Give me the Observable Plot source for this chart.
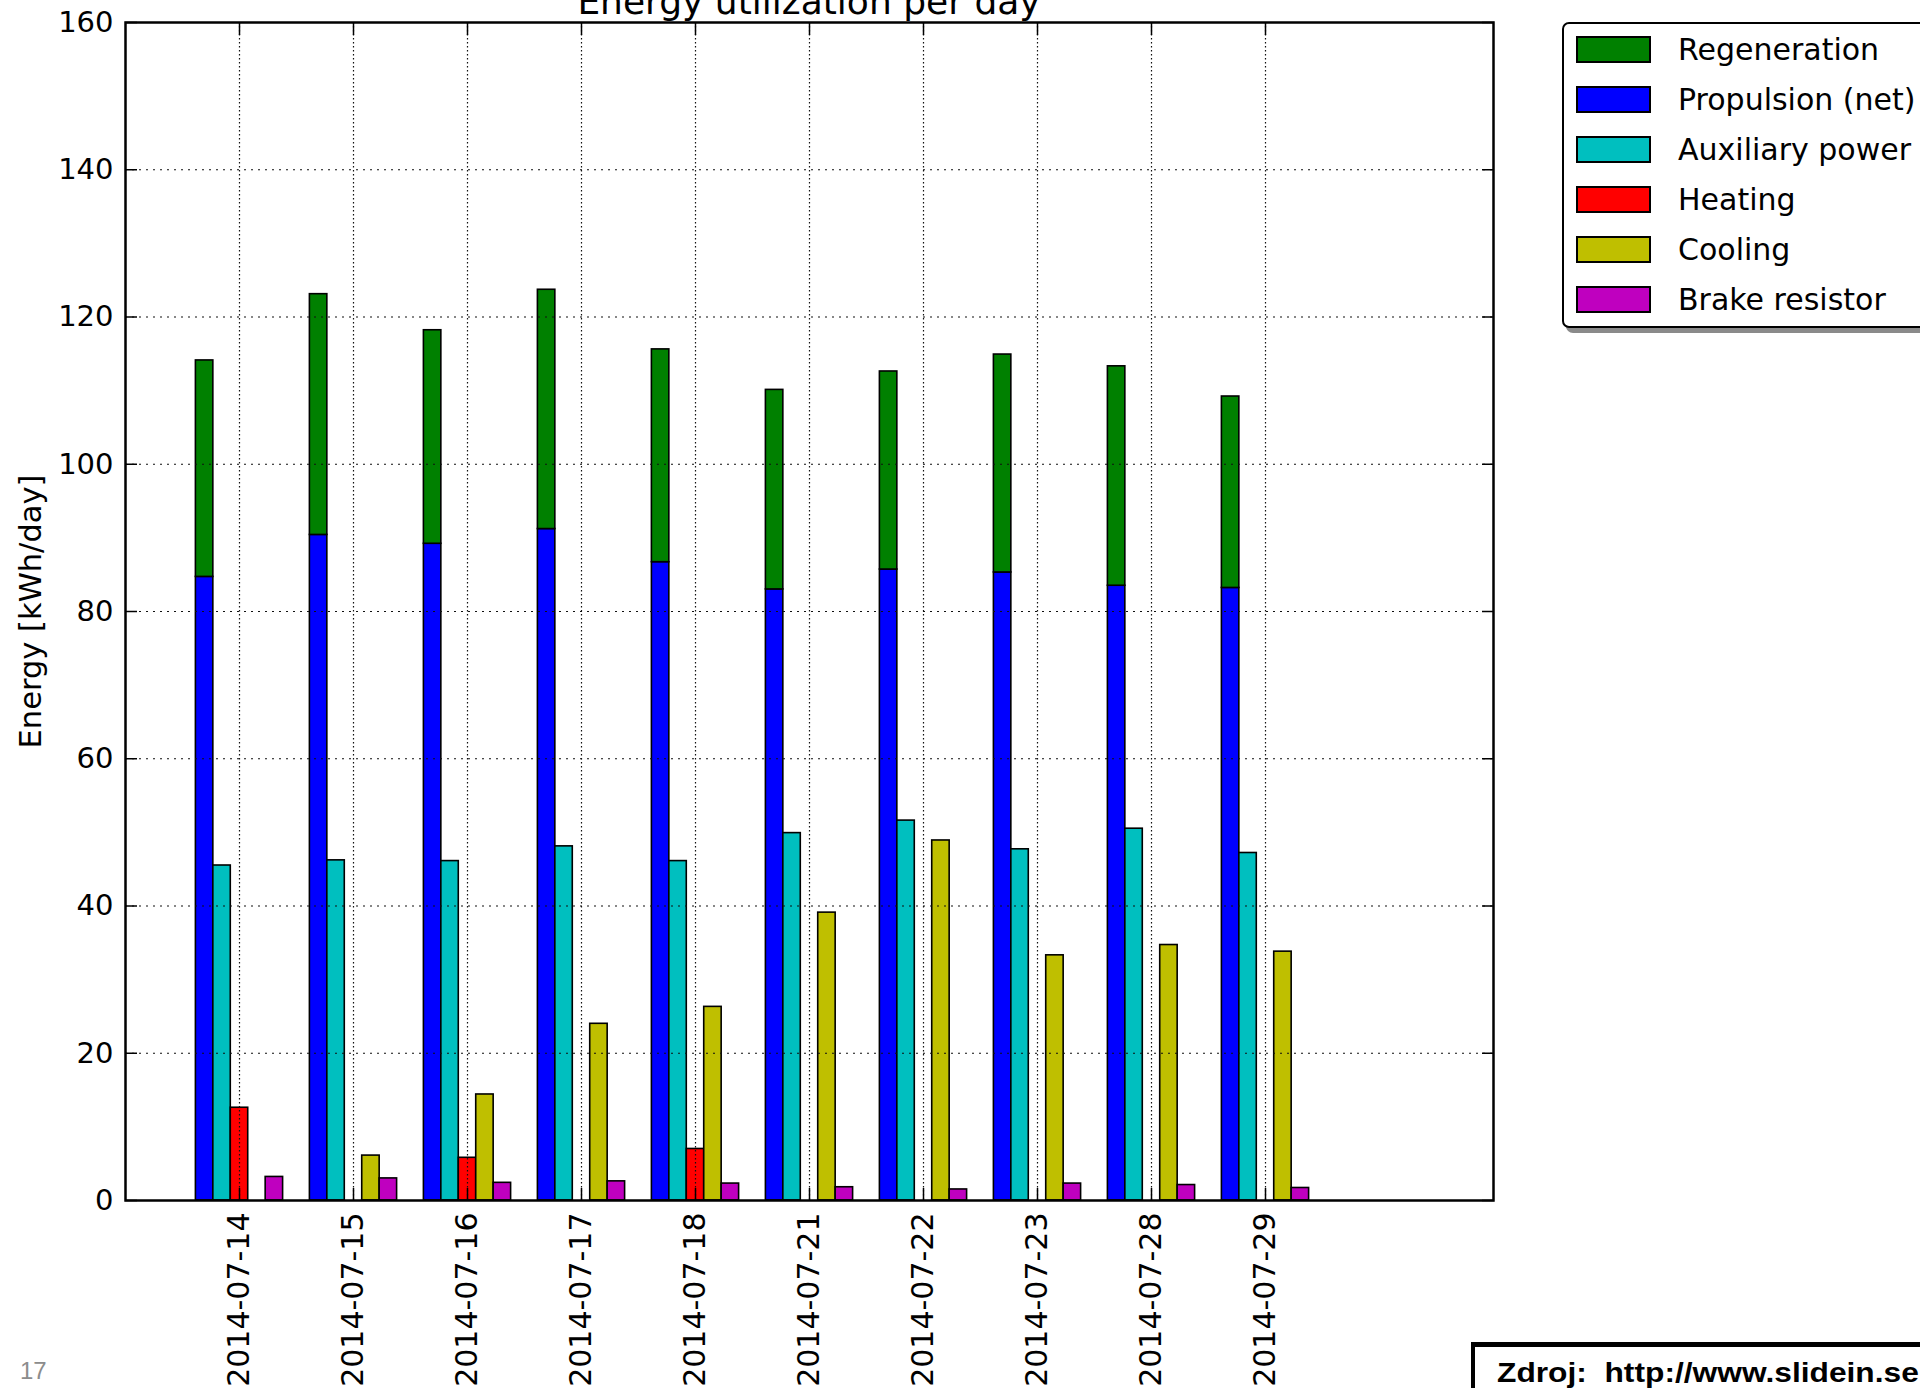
<!DOCTYPE html>
<html>
<head>
<meta charset="utf-8">
<script src="https://cdn.jsdelivr.net/npm/d3@7"></script>
<script src="https://cdn.jsdelivr.net/npm/@observablehq/plot@0.6"></script>
<style>
html, body { margin: 0; padding: 0; background: #fff; }
body { width: 1920px; height: 1388px; overflow: hidden; position: relative; }
#chart { position: absolute; left: 0; top: 0; }
.title { position: absolute; left: 0; width: 1618px; top: -16px; text-align: center;
  font-family: "DejaVu Sans", sans-serif; font-size: 36px; line-height: 36px; white-space: nowrap; color: #000; }
.legend { position: absolute; left: 1562px; top: 22px; width: 420px; height: 306px;
  border: 2px solid #000; border-radius: 7px; background: #fff; box-shadow: 4px 5px 0 #8a8a8a; box-sizing: border-box; }
.lrow { position: absolute; left: 0; height: 50px; display: flex; align-items: center; }
.sw { width: 75px; height: 27px; border: 2px solid #000; box-sizing: border-box; margin-left: 12px; }
.lt { margin-left: 27px; font-family: "DejaVu Sans", sans-serif; font-size: 30px; position: relative; top: 0px; white-space: nowrap; color: #000; }
.pagenum { position: absolute; left: 20px; top: 1359px; font-family: "Liberation Sans", Arial, sans-serif;
  font-size: 24px; line-height: 24px; color: #8c8c8c; }
.src { position: absolute; left: 1471px; top: 1342px; width: 500px; height: 60px;
  border-top: 5px solid #000; border-left: 4px solid #000; box-sizing: border-box; background: #fff; }
.srct { position: absolute; left: 1497px; top: 1360px; font-family: "Liberation Sans", Arial, sans-serif;
  font-weight: bold; font-size: 27px; line-height: 27px; white-space: pre; color: #000;
  transform-origin: 0 0; transform: scaleX(1.175); }
</style>
</head>
<body>
<div id="chart"></div>
<div class="title">Energy utilization per day</div>
<div class="legend" id="legend"></div>
<div class="pagenum">17</div>
<div class="src"></div>
<div class="srct">Zdroj:  http://www.slidein.se</div>
<script>
// ---- data ----
const dates = ["2014-07-14","2014-07-15","2014-07-16","2014-07-17","2014-07-18",
               "2014-07-21","2014-07-22","2014-07-23","2014-07-28","2014-07-29"];
const propulsion   = [84.7, 90.4, 89.2, 91.2, 86.7, 83.0, 85.7, 85.3, 83.5, 83.2];
const regeneration = [29.4, 32.7, 29.0, 32.5, 28.9, 27.1, 26.9, 29.6, 29.8, 26.0];
const auxiliary    = [45.5, 46.2, 46.1, 48.1, 46.1, 49.9, 51.6, 47.7, 50.5, 47.2];
const heating      = [12.6, 0, 5.8, 0, 7.0, 0, 0, 0, 0, 0];
const cooling      = [0, 6.1, 14.4, 24.0, 26.3, 39.1, 48.9, 33.3, 34.7, 33.8];
const brake        = [3.2, 3.0, 2.4, 2.6, 2.3, 1.8, 1.5, 2.3, 2.1, 1.7];
const seriesNames  = ["Regeneration","Propulsion (net)","Auxiliary power","Heating","Cooling","Brake resistor"];
const seriesColors = ["#008000","#0000ff","#00bfbf","#ff0000","#bfbf00","#bf00bf"];
const yTicks = [0, 20, 40, 60, 80, 100, 120, 140, 160];
const yTitle = "Energy [kWh/day]";

// ---- build rows ----
const barW = 0.153;
const rows = [];
dates.forEach((d, i) => {
  const slot = k => [i + (k - 2.5) * barW, i + (k - 1.5) * barW];
  const add = (s, k, y1, y2) => { const [x1, x2] = slot(k); rows.push({s, x1, x2, y1, y2}); };
  add("Propulsion (net)", 0, 0, propulsion[i]);
  add("Regeneration", 0, propulsion[i], propulsion[i] + regeneration[i]);
  add("Auxiliary power", 1, 0, auxiliary[i]);
  add("Heating", 2, 0, heating[i]);
  add("Cooling", 3, 0, cooling[i]);
  add("Brake resistor", 4, 0, brake[i]);
});
const idx = d3.range(dates.length);

const plot = Plot.plot({
  width: 1920, height: 1388,
  marginLeft: 125, marginRight: 427, marginTop: 22, marginBottom: 188,
  style: { fontFamily: '"DejaVu Sans", sans-serif', fontSize: "28px", color: "#000", background: "transparent", overflow: "visible" },
  x: { domain: [-1, 11] },
  y: { domain: [0, 160] },
  color: { domain: seriesNames, range: seriesColors },
  marks: [
    Plot.rect(rows.filter(r => r.y2 > r.y1), { x1: "x1", x2: "x2", y1: "y1", y2: "y2", fill: "s", stroke: "#000", strokeWidth: 1.6 }),
    Plot.gridY(yTicks.slice(1, -1), { stroke: "#111", strokeOpacity: 1, strokeWidth: 1.2, strokeDasharray: "2,5" }),
    Plot.gridX(idx, { stroke: "#111", strokeOpacity: 1, strokeWidth: 1.2, strokeDasharray: "1.5,2.5" }),
    Plot.axisY(yTicks, { anchor: "left", tickSize: -12, tickPadding: 24, fontSize: 29, label: null, strokeWidth: 1.5 }),
    Plot.axisY(yTicks, { anchor: "right", tickSize: -12, tickFormat: () => "", label: null, strokeWidth: 1.5 }),
    Plot.axisX(idx, { anchor: "bottom", tickSize: -12, tickPadding: 24, tickRotate: -90, tickFormat: i => dates[i], fontSize: 30, label: null, strokeWidth: 1.5 }),
    Plot.axisX(idx, { anchor: "top", tickSize: -12, tickFormat: () => "", label: null, strokeWidth: 1.5 }),
    Plot.text([yTitle], { frameAnchor: "left", dx: -94, rotate: -90, fontSize: 30.5, textAnchor: "middle", text: d => d }),
    Plot.frame({ stroke: "#000", strokeWidth: 2.5 })
  ]
});
document.getElementById("chart").appendChild(plot);

// ---- legend ----
const legend = document.getElementById("legend");
seriesNames.forEach((name, k) => {
  const row = document.createElement("div");
  row.className = "lrow";
  row.style.top = (0.5 + 50 * k) + "px";
  const sw = document.createElement("div");
  sw.className = "sw";
  sw.style.background = seriesColors[k];
  const t = document.createElement("span");
  t.className = "lt";
  t.textContent = name;
  row.appendChild(sw);
  row.appendChild(t);
  legend.appendChild(row);
});
</script>
</body>
</html>
